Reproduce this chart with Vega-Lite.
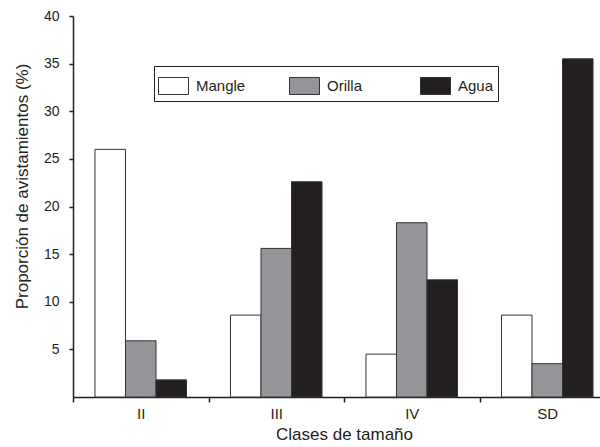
{
  "$schema": "https://vega.github.io/schema/vega-lite/v6.json",
  "width": 527,
  "height": 381,
  "autosize": "none",
  "padding": {"left": 73, "top": 16, "right": 0, "bottom": 50},
  "background": "white",
  "config": {
    "view": {"stroke": null},
    "font": "Liberation Sans",
    "axis": {"grid": false, "domainColor": "#231f20", "tickColor": "#231f20", "labelColor": "#231f20", "titleColor": "#231f20", "labelFont": "Liberation Sans", "titleFont": "Liberation Sans", "titleFontWeight": "normal", "domainWidth": 1.5, "tickWidth": 1.5}
  },
  "data": {
    "values": [
      {"clase": "II", "habitat": "Mangle", "valor": 26.0},
      {"clase": "II", "habitat": "Orilla", "valor": 5.9},
      {"clase": "II", "habitat": "Agua", "valor": 1.8},
      {"clase": "III", "habitat": "Mangle", "valor": 8.6},
      {"clase": "III", "habitat": "Orilla", "valor": 15.6},
      {"clase": "III", "habitat": "Agua", "valor": 22.6},
      {"clase": "IV", "habitat": "Mangle", "valor": 4.5},
      {"clase": "IV", "habitat": "Orilla", "valor": 18.3},
      {"clase": "IV", "habitat": "Agua", "valor": 12.3},
      {"clase": "SD", "habitat": "Mangle", "valor": 8.6},
      {"clase": "SD", "habitat": "Orilla", "valor": 3.5},
      {"clase": "SD", "habitat": "Agua", "valor": 35.5}
    ]
  },
  "mark": {"type": "bar", "stroke": "#333333", "strokeWidth": 1},
  "encoding": {
    "x": {
      "field": "clase", "type": "nominal", "sort": ["II", "III", "IV", "SD"],
      "scale": {"range": [0, 542], "paddingInner": 0, "paddingOuter": 0},
      "axis": {"title": "Clases de tamaño", "labelAngle": 0, "labelFontSize": 15, "titleFontSize": 17, "tickBand": "extent", "tickSize": 5, "labelPadding": 4, "titlePadding": 5}
    },
    "xOffset": {
      "field": "habitat", "type": "nominal", "sort": ["Mangle", "Orilla", "Agua"],
      "scale": {"paddingInner": 0, "paddingOuter": 0.72}
    },
    "y": {
      "field": "valor", "type": "quantitative",
      "scale": {"domain": [0, 40], "nice": false},
      "axis": {"title": "Proporción de avistamientos (%)", "values": [5, 10, 15, 20, 25, 30, 35, 40], "labelFontSize": 14, "titleFontSize": 17, "tickSize": 4, "labelPadding": 10, "titlePadding": 12, "titleY": 170}
    },
    "fill": {
      "field": "habitat", "type": "nominal", "sort": ["Mangle", "Orilla", "Agua"],
      "scale": {"domain": ["Mangle", "Orilla", "Agua"], "range": ["#ffffff", "#939598", "#231f20"]},
      "legend": {
        "title": null, "orient": "none", "legendX": 81, "legendY": 50,
        "direction": "horizontal", "columns": 3, "gridAlign": "all", "columnPadding": 41,
        "symbolType": "M-1,-0.567H1V0.567H-1Z", "symbolSize": 900, "symbolStrokeColor": "#333333", "symbolStrokeWidth": 1,
        "labelFontSize": 15, "labelColor": "#231f20", "labelOffset": 7,
        "strokeColor": "#231f20", "fillColor": "#ffffff", "padding": 4
      }
    }
  }
}
